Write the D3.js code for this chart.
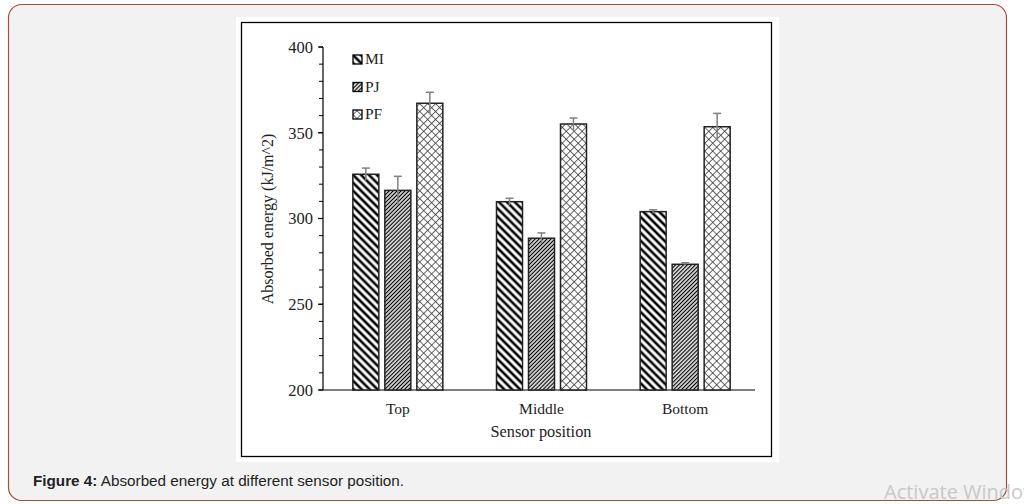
<!DOCTYPE html>
<html>
<head>
<meta charset="utf-8">
<script src="https://cdn.jsdelivr.net/npm/d3@7"></script>
<style>
  body { margin: 0; background: #fff; }
  svg { display: block; }
</style>
</head>
<body>
<div id="chart"></div>
<script>
// Data
const categories = ['Top', 'Middle', 'Bottom'];
const series = ['MI', 'PJ', 'PF'];
const miValues = [325.8, 309.8, 304.0];
const pjValues = [316.4, 288.5, 273.3];
const pfValues = [367.2, 355.1, 353.5];
const miErrors = [3.6, 2.0, 1.1];
const pjErrors = [8.2, 3.1, 0.9];
const pfErrors = [6.4, 3.5, 7.8];
const yTicks = [200, 250, 300, 350, 400];

const valuesBySeries = { MI: miValues, PJ: pjValues, PF: pfValues };
const errorsBySeries = { MI: miErrors, PJ: pjErrors, PF: pfErrors };

const rows = [];
categories.forEach((c, i) => {
    series.forEach(s => {
        rows.push({ category: c, series: s, value: valuesBySeries[s][i], error: errorsBySeries[s][i] });
    });
});

const width = 1024, height = 504;
const svg = d3.select('#chart').append('svg')
    .attr('width', width)
    .attr('height', height);

// Patterns
const defs = svg.append('defs');

function stripes(id, size, stroke, angle) {
    const p = defs.append('pattern')
        .attr('id', id)
        .attr('patternUnits', 'userSpaceOnUse')
        .attr('width', size)
        .attr('height', size)
        .attr('patternTransform', `rotate(${angle})`);
    p.append('rect').attr('width', size).attr('height', size).attr('fill', '#fff');
    p.append('line')
        .attr('x1', size / 2).attr('x2', size / 2)
        .attr('y1', 0).attr('y2', size)
        .attr('stroke', '#000')
        .attr('stroke-width', stroke);
}
stripes('pat-MI', 5.6, 2.6, -45);
stripes('pat-PJ', 2.8, 1.3, 45);

const lattice = defs.append('pattern')
    .attr('id', 'pat-PF')
    .attr('patternUnits', 'userSpaceOnUse')
    .attr('width', 5.6)
    .attr('height', 5.6)
    .attr('patternTransform', 'rotate(45)');
lattice.append('rect').attr('width', 5.6).attr('height', 5.6).attr('fill', '#fff');
lattice.append('path')
    .attr('d', 'M0,0.4H5.6M0.4,0V5.6')
    .attr('stroke', '#333')
    .attr('stroke-width', 0.8);

// Outer page panel
svg.append('rect')
    .attr('x', 8.5).attr('y', 4.5)
    .attr('width', 998).attr('height', 496)
    .attr('rx', 13)
    .attr('fill', '#f2f2f2')
    .attr('stroke', '#a0513c')
    .attr('stroke-width', 1.2);

// Figure image area
svg.append('rect')
    .attr('x', 236).attr('y', 17)
    .attr('width', 543).attr('height', 445)
    .attr('fill', '#fff');
svg.append('rect')
    .attr('x', 241.5).attr('y', 22.5)
    .attr('width', 530).attr('height', 434)
    .attr('fill', 'none')
    .attr('stroke', '#000')
    .attr('stroke-width', 1.3);

// Scales
const x0 = d3.scaleBand().domain(categories).range([326, 757]);
const x1 = d3.scaleBand().domain(series).range([0, 96])
    .paddingInner(0.1875).paddingOuter(0.09375);
const y = d3.scaleLinear().domain([200, 400]).range([390, 47]);

const font = '"Liberation Serif", "Times New Roman", serif';

// Y axis with minor ticks
const yAxis = svg.append('g').attr('transform', 'translate(323,0)');
yAxis.append('line')
    .attr('y1', y(200)).attr('y2', y(400))
    .attr('stroke', '#000').attr('stroke-width', 1.2);
yAxis.selectAll('.minor')
    .data(d3.range(200, 401, 10))
    .join('line')
    .attr('x1', -4).attr('x2', 0)
    .attr('y1', d => y(d)).attr('y2', d => y(d))
    .attr('stroke', '#000').attr('stroke-width', 1);
yAxis.selectAll('.major')
    .data(yTicks)
    .join('line')
    .attr('x1', -5).attr('x2', 0)
    .attr('y1', d => y(d)).attr('y2', d => y(d))
    .attr('stroke', '#000').attr('stroke-width', 1.2);
yAxis.selectAll('text')
    .data(yTicks)
    .join('text')
    .attr('x', -10)
    .attr('y', d => y(d))
    .attr('dy', '0.35em')
    .attr('text-anchor', 'end')
    .attr('font-family', font)
    .attr('font-size', 16.5)
    .attr('fill', '#222')
    .text(d => d);

// X axis
svg.append('line')
    .attr('x1', 323).attr('x2', 755)
    .attr('y1', y(200)).attr('y2', y(200))
    .attr('stroke', '#000').attr('stroke-width', 1.2);
svg.selectAll('.cat-label')
    .data(categories)
    .join('text')
    .attr('class', 'cat-label')
    .attr('x', d => x0(d) + x0.bandwidth() / 2)
    .attr('y', 414)
    .attr('text-anchor', 'middle')
    .attr('font-family', font)
    .attr('font-size', 15.5)
    .attr('fill', '#222')
    .text(d => d);

svg.append('text')
    .attr('x', 541)
    .attr('y', 437)
    .attr('text-anchor', 'middle')
    .attr('font-family', font)
    .attr('font-size', 16.3)
    .attr('fill', '#222')
    .text('Sensor position');

svg.append('text')
    .attr('transform', 'translate(273,219) rotate(-90)')
    .attr('text-anchor', 'middle')
    .attr('font-family', font)
    .attr('font-size', 16)
    .attr('fill', '#222')
    .text('Absorbed energy (kJ/m^2)');

// Bars
const groupOffset = x0.bandwidth() / 2 - 48;
svg.selectAll('.bar')
    .data(rows)
    .join('rect')
    .attr('class', 'bar')
    .attr('x', d => x0(d.category) + groupOffset + x1(d.series))
    .attr('y', d => y(d.value))
    .attr('width', x1.bandwidth())
    .attr('height', d => y(200) - y(d.value))
    .attr('fill', d => `url(#pat-${d.series})`)
    .attr('stroke', '#222')
    .attr('stroke-width', 1.5);

// Error bars
const err = svg.selectAll('.err')
    .data(rows)
    .join('g')
    .attr('class', 'err')
    .attr('transform', d => `translate(${x0(d.category) + groupOffset + x1(d.series) + x1.bandwidth() / 2},0)`);
err.append('line')
    .attr('y1', d => y(d.value - d.error))
    .attr('y2', d => y(d.value + d.error))
    .attr('stroke', '#808080').attr('stroke-width', 1.5);
err.append('line')
    .attr('x1', -4).attr('x2', 4)
    .attr('y1', d => y(d.value + d.error))
    .attr('y2', d => y(d.value + d.error))
    .attr('stroke', '#808080').attr('stroke-width', 1.5);

// Legend
const legend = svg.selectAll('.legend')
    .data(series)
    .join('g')
    .attr('class', 'legend')
    .attr('transform', (d, i) => `translate(353,${59 + i * 27.5})`);
legend.append('rect')
    .attr('x', 0).attr('y', -4)
    .attr('width', 9).attr('height', 9)
    .attr('fill', d => `url(#pat-${d})`)
    .attr('stroke', '#000')
    .attr('stroke-width', 1.3);
legend.append('text')
    .attr('x', 12)
    .attr('y', 0)
    .attr('dy', '0.35em')
    .attr('font-family', font)
    .attr('font-size', 15.5)
    .attr('fill', '#222')
    .text(d => d);

// Caption
const caption = svg.append('text')
    .attr('x', 33)
    .attr('y', 486)
    .attr('font-family', '"Liberation Sans", Arial, sans-serif')
    .attr('font-size', 15.25)
    .attr('fill', '#222');
caption.append('tspan').attr('font-weight', 'bold').text('Figure 4:');
caption.append('tspan').text(' Absorbed energy at different sensor position.');

// Watermark (cut off by the window edge, as in the screenshot)
svg.append('text')
    .attr('x', 884)
    .attr('y', 499)
    .attr('font-family', '"Open Sans", "Liberation Sans", sans-serif')
    .attr('font-size', 20)
    .attr('fill', '#c8c8c8')
    .text('Activate Windows');
</script>
</body>
</html>
